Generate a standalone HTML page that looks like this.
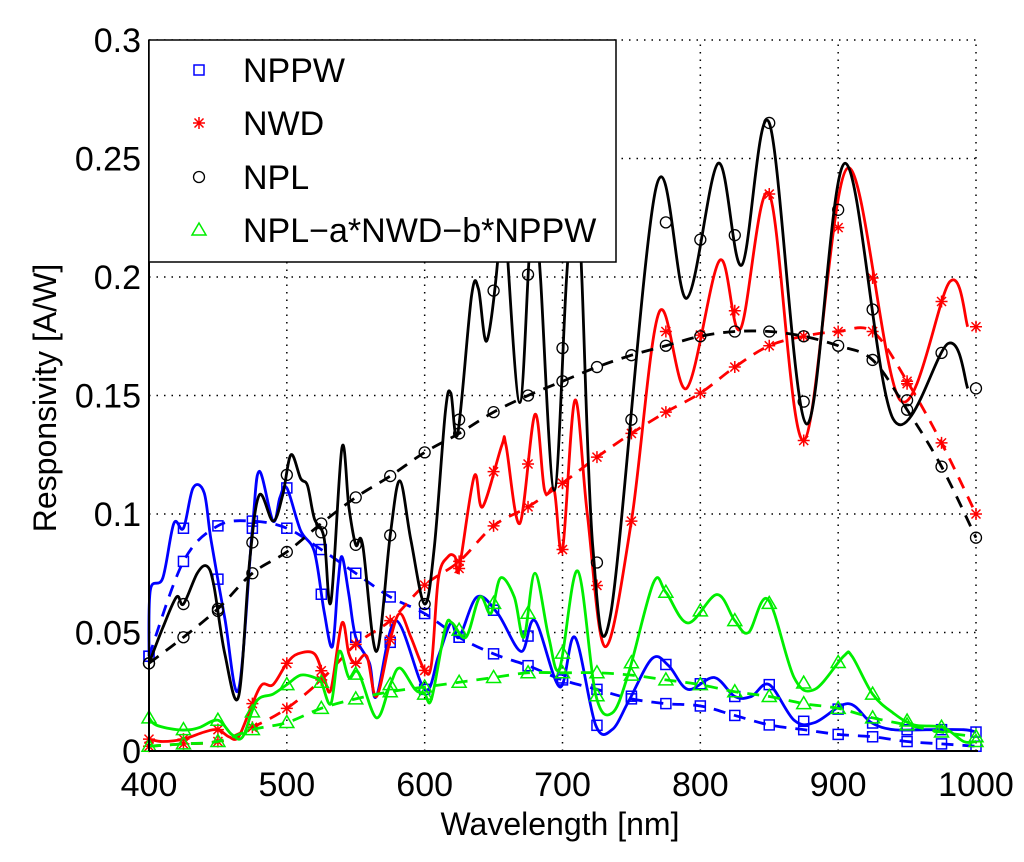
<!DOCTYPE html>
<html><head><meta charset="utf-8"><style>
html,body{margin:0;padding:0;background:#fff;}
svg{display:block;font-family:"Liberation Sans",Arial,sans-serif;}
</style></head><body>
<svg id="chart" width="1024" height="862" viewBox="0 0 1024 862">
<g id="grid"></g>
<g id="series"></g>
<g id="axes"></g>
<text x="560" y="835" font-size="32" text-anchor="middle">Wavelength [nm]</text>
<text transform="translate(56,398) rotate(-90)" font-size="32" text-anchor="middle">Responsivity [A/W]</text>
<g id="legend"></g>
</svg>
<script>
const xTicks=[400,500,600,700,800,900,1000];
const yTicks=[0,0.05,0.1,0.15,0.2,0.25,0.3];
const yTickLabels=["0","0.05","0.1","0.15","0.2","0.25","0.3"];
const seriesNames=["NPPW","NWD","NPL","NPL\u2212a*NWD\u2212b*NPPW"];
// solid series [wavelength, value]
const nppwW=[400,401,410,418,425,432,440,445,455,465,475,480,490,495,500,510,520,527,533,537,540,545,550,560,565,579,600,610,619,625,638,653,670,680,698,709,724,736,748,765,777,791,810,825,837,850,868,883,907,924,940,964,991,1000];
const nppwV=[0.04,0.068,0.073,0.096,0.094,0.111,0.109,0.089,0.056,0.026,0.094,0.118,0.097,0.107,0.111,0.093,0.084,0.059,0.044,0.07,0.082,0.066,0.048,0.037,0.023,0.055,0.026,0.04,0.054,0.048,0.065,0.058,0.042,0.055,0.027,0.048,0.011,0.009,0.021,0.039,0.036,0.026,0.031,0.023,0.023,0.028,0.013,0.012,0.02,0.012,0.009,0.009,0.009,0.008];
const nwdW=[400,410,425,440,450,458,465,475,482,490,500,508,520,527,532,540,545,550,558,565,575,582,590,600,605,610,617,622,625,636,642,656,659,669,680,687,694,700,709,718,731,750,770,790,814,829,850,875,907,945,981,994];
const nwdV=[0.005,0.004,0.005,0.008,0.009,0.006,0.006,0.02,0.028,0.028,0.037,0.041,0.041,0.031,0.026,0.054,0.041,0.037,0.04,0.023,0.047,0.058,0.048,0.034,0.037,0.073,0.082,0.082,0.077,0.116,0.103,0.129,0.129,0.096,0.142,0.11,0.11,0.085,0.148,0.1,0.044,0.097,0.185,0.153,0.207,0.178,0.235,0.131,0.246,0.148,0.198,0.179];
const nplW=[400,410,420,425,435,442,447,455,465,473,480,490,497,503,510,515,520,527,532,540,545,550,555,565,575,582,590,600,607,615,619,624,634,639,645,653,657,660,669,676,680,684,694,703,710,714,722,735,768,790,813,830,850,877,905,940,980,994];
const nplV=[0.037,0.052,0.065,0.062,0.075,0.078,0.07,0.041,0.023,0.08,0.108,0.097,0.108,0.125,0.115,0.112,0.098,0.09,0.063,0.128,0.103,0.087,0.087,0.042,0.091,0.114,0.089,0.062,0.086,0.143,0.151,0.134,0.192,0.195,0.173,0.207,0.25,0.21,0.147,0.21,0.23,0.2,0.11,0.2,0.25,0.2,0.086,0.058,0.238,0.191,0.248,0.205,0.265,0.138,0.248,0.14,0.172,0.153];
const diffW=[400,405,420,430,437,450,460,468,478,490,500,510,520,525,532,538,545,552,565,575,582,593,600,605,615,620,630,640,648,655,665,672,680,690,698,711,724,736,748,766,775,791,812,825,835,849,868,883,904,910,925,940,955,976,991,1000];
const diffV=[0.014,0.011,0.009,0.009,0.01,0.013,0.007,0.006,0.021,0.024,0.028,0.032,0.031,0.029,0.02,0.042,0.031,0.033,0.014,0.028,0.035,0.026,0.024,0.022,0.052,0.054,0.048,0.065,0.058,0.073,0.065,0.048,0.075,0.048,0.035,0.076,0.024,0.016,0.033,0.071,0.067,0.054,0.066,0.055,0.05,0.064,0.031,0.026,0.04,0.04,0.024,0.016,0.011,0.01,0.004,0.004];
// dashed fits, every 25 nm
const fitW=[400,425,450,475,500,525,550,575,600,625,650,675,700,725,750,775,800,825,850,875,900,925,950,975,1000];
const nppwFit=[0.04,0.08,0.095,0.097,0.094,0.085,0.075,0.065,0.058,0.048,0.041,0.036,0.03,0.026,0.022,0.02,0.019,0.015,0.011,0.009,0.007,0.006,0.004,0.003,0.002];
const nwdFit=[0.002,0.003,0.004,0.01,0.018,0.03,0.045,0.055,0.07,0.08,0.095,0.103,0.113,0.124,0.134,0.143,0.151,0.162,0.171,0.175,0.177,0.177,0.156,0.13,0.1];
const nplFit=[0.037,0.048,0.06,0.075,0.084,0.096,0.107,0.116,0.126,0.134,0.143,0.15,0.156,0.162,0.167,0.171,0.175,0.177,0.177,0.175,0.171,0.165,0.144,0.12,0.09];
const diffFit=[0.002,0.003,0.004,0.009,0.012,0.018,0.022,0.025,0.027,0.029,0.031,0.033,0.033,0.033,0.032,0.03,0.028,0.025,0.023,0.02,0.018,0.014,0.011,0.008,0.006];

const X0=149,X1=976,Y0=751,Y1=40;
const xs=w=>X0+(w-400)/(1000-400)*(X1-X0);
const ys=v=>Y0-(v-0)/(0.3)*(Y0-Y1);
const NS="http://www.w3.org/2000/svg";
function mk(tag,attrs,parent){const e=document.createElementNS(NS,tag);for(const k in attrs)e.setAttribute(k,attrs[k]);parent.appendChild(e);return e;}
function interp(W,V,w){for(let i=0;i<W.length-1;i++){if(w>=W[i]&&w<=W[i+1]){const t=(w-W[i])/(W[i+1]-W[i]);return V[i]+t*(V[i+1]-V[i]);}}return V[V.length-1];}
function smoothPath(P){let d=`M${P[0][0]},${P[0][1]}`;for(let i=0;i<P.length-1;i++){const p0=P[Math.max(0,i-1)],p1=P[i],p2=P[i+1],p3=P[Math.min(P.length-1,i+2)];const c1x=p1[0]+(p2[0]-p0[0])/6,c1y=p1[1]+(p2[1]-p0[1])/6,c2x=p2[0]-(p3[0]-p1[0])/6,c2y=p2[1]-(p3[1]-p1[1])/6;d+=`C${c1x},${c1y} ${c2x},${c2y} ${p2[0]},${p2[1]}`;}return d;}
const grid=document.getElementById('grid'),ser=document.getElementById('series'),axes=document.getElementById('axes'),leg=document.getElementById('legend');
xTicks.forEach(t=>{if(t>400){const l=mk('line',{x1:xs(t),x2:xs(t),y1:Y0,y2:Y1,stroke:'#000','stroke-width':1.5,'stroke-dasharray':'1.5,6'},grid);

}});
yTicks.forEach(t=>{if(t>0){const l=mk('line',{x1:X0,x2:X1,y1:ys(t),y2:ys(t),stroke:'#000','stroke-width':1.5,'stroke-dasharray':'1.5,6'},grid);

}});
function marker(type,color,x,y,parent){
 let e;
 if(type==='sq'){e=mk('rect',{x:x-5,y:y-5,width:10,height:10,fill:'none',stroke:color,'stroke-width':1.5},parent);}
 else if(type==='circ'){e=mk('circle',{cx:x,cy:y,r:5.5,fill:'none',stroke:color,'stroke-width':1.3},parent);}
 else if(type==='tri'){e=mk('polygon',{points:`${x},${y-7} ${x-7},${y+5} ${x+7},${y+5}`,fill:'none',stroke:color,'stroke-width':1.5},parent);}
 else {e=mk('path',{d:`M${x-6},${y}H${x+6}M${x},${y-6}V${y+6}M${x-4.5},${y-4.5}L${x+4.5},${y+4.5}M${x-4.5},${y+4.5}L${x+4.5},${y-4.5}`,stroke:color,'stroke-width':1.5,fill:'none'},parent);}
 return e;
}
const defs=[
 {W:nppwW,V:nppwV,F:nppwFit,c:'#0000ff',m:'sq',n:'nppw'},
 {W:nwdW,V:nwdV,F:nwdFit,c:'#ff0000',m:'star',n:'nwd'},
 {W:nplW,V:nplV,F:nplFit,c:'#000000',m:'circ',n:'npl'},
 {W:diffW,V:diffV,F:diffFit,c:'#00ee00',m:'tri',n:'difference'}];
defs.forEach(d=>{
 const g=mk('g',{},ser);
 
 
 const sp=mk('path',{d:smoothPath(d.W.map((w,i)=>[xs(w),ys(d.V[i])])),fill:'none',stroke:d.c,'stroke-width':2.8,'stroke-linejoin':'round'},g);
 
 
 const dp=mk('path',{d:smoothPath(fitW.map((w,i)=>[xs(w),ys(d.F[i])])),fill:'none',stroke:d.c,'stroke-width':2.8,'stroke-dasharray':'12,9'},g);
 
 
 fitW.forEach((w,i)=>{
  const m1=marker(d.m,d.c,xs(w),ys(interp(d.W,d.V,w)),g);
  
  
  const m2=marker(d.m,d.c,xs(w),ys(d.F[i]),g);
  
  
 });
});
// axes
mk('line',{x1:X0,x2:X0,y1:Y0,y2:Y1,stroke:'#000','stroke-width':2},axes);
mk('line',{x1:X0,x2:X1+2,y1:Y0,y2:Y0,stroke:'#000','stroke-width':2},axes);
xTicks.forEach(t=>{const tx=mk('text',{x:xs(t),y:796,'font-size':34,'text-anchor':'middle'},axes);tx.textContent=t;

});
yTicks.forEach((t,i)=>{const tx=mk('text',{x:141,y:ys(t)+12,'font-size':34,'text-anchor':'end'},axes);tx.textContent=yTickLabels[i];

});
// legend
const box=mk('rect',{x:149,y:40,width:467,height:222,fill:'#fff',stroke:'#000','stroke-width':1.5},leg);


const rows=[70,123,177,230];
defs.forEach((d,i)=>{
 const g=mk('g',{},leg);
 
 
 marker(d.m,d.c,199,rows[i],g);
 const t=mk('text',{x:243,y:rows[i]+12,'font-size':34},g);
 t.textContent=seriesNames[i];
});
</script>
</body></html>
